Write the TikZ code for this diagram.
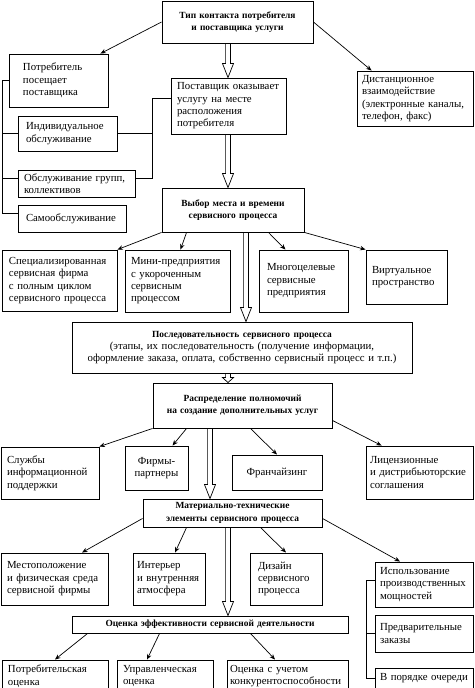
\documentclass[tikz,border=0pt]{standalone}
\usepackage{fontspec}
\setmainfont{Liberation Serif}
\usetikzlibrary{arrows.meta,calc}

\tikzset{
  box/.style={draw, line width=0.9pt, inner xsep=6pt, inner ysep=0pt, align=left,
    font=\fontsize{10.8}{12.4}\selectfont},
  head/.style={box, align=center, font=\fontsize{9.4}{12.3}\selectfont\bfseries},
  arr/.style={line width=0.7pt, -{Stealth[length=5.5pt,width=4.5pt]}},
  link/.style={line width=0.8pt},
  hollow/.style={line width=0.7pt, line join=miter}
}

\newcommand{\bigarrow}[3]{%
  \draw[hollow] let \p1=(#2.south), \p2=(#3.north),
      \n1={min(14,0.55*((\y1)-(\y2)))} in
    (#1pt-2.4pt,\y1) -- (#1pt-2.4pt,\y2+\n1*1pt) -- (#1pt-5.5pt,\y2+\n1*1pt)
    -- (#1pt,\y2) -- (#1pt+5.5pt,\y2+\n1*1pt) -- (#1pt+2.4pt,\y2+\n1*1pt)
    -- (#1pt+2.4pt,\y1);}

\begin{document}
\begin{tikzpicture}[x=1pt,y=-1pt]
\useasboundingbox (0,0) rectangle (474,688);

\node[head, minimum width=151pt, minimum height=42pt, text width=139pt] (tip) at (237.5,22) {Тип контакта потребителя\\и поставщика услуги};
\node[box, inner xsep=14pt, minimum height=53pt, text width=71pt] (potr) at (58.5,80.5) {Потребитель\\посещает\\поставщика};
\node[box, minimum height=56pt, text width=103pt] (post) at (228.5,106) {Поставщик оказывает\\услугу на месте\\расположения\\потребителя};
\node[box, inner xsep=5pt, minimum height=55pt, text width=106pt] (dist) at (415,98.5) {Дистанционное\\взаимодействие\\(электронные каналы,\\телефон, факс)};
\node[box, inner xsep=8pt, minimum height=35pt, text width=83pt] (ind) at (67.5,133.5) {Индивидуальное\\обслуживание};
\node[box, inner xsep=6pt, minimum height=27pt, text width=105pt] (grp) at (76.5,183.5) {Обслуживание групп,\\коллективов};
\node[box, inner xsep=8pt, minimum height=27pt, text width=92pt] (self) at (72,218.5) {Самообслуживание};
\node[head, minimum height=44pt, text width=130pt] (vyb) at (233,210) {Выбор места и времени\\сервисного процесса};

\node[box, inner xsep=7pt, minimum height=61pt, text width=101pt] (spec) at (59.5,280.5) {Специализированная\\сервисная фирма\\с полным циклом\\сервисного процесса};
\node[box, minimum height=62pt, text width=93pt] (mini) at (177.5,281) {Мини-предприятия\\с укороченным\\сервисным\\процессом};
\node[box, inner xsep=8pt, minimum height=62pt, text width=73pt] (mnog) at (303.5,281) {Многоцелевые\\сервисные\\предприятия};
\node[box, minimum height=54pt, text width=69pt] (virt) at (406.5,277) {Виртуальное\\пространство};

\node[box, align=center, minimum height=51pt, text width=328pt] (posl) at (242,347.5) {{\bfseries\fontsize{9.4}{12.3}\selectfont Последовательность сервисного процесса}\\(этапы, их последовательность (получение информации,\\оформление заказа, оплата, собственно сервисный процесс и т.п.)};
\node[head, minimum height=45pt, text width=167pt] (rasp) at (242.5,405.5) {Распределение полномочий\\на создание дополнительных услуг};

\node[box, minimum height=52pt, text width=86pt] (sluzh) at (50,473) {Службы\\информационной\\поддержки};
\node[box, align=center, minimum height=44pt, text width=51pt] (firm) at (156.5,468) {Фирмы-\\партнеры};
\node[box, align=center, minimum height=35pt, text width=78pt] (fran) at (277,472.5) {Франчайзинг};
\node[box, inner xsep=4pt, minimum height=53pt, text width=99pt] (lic) at (419.5,472.5) {Лицензионные\\и дистрибьюторские\\соглашения};

\node[head, minimum height=28pt, text width=167pt] (mat) at (232.5,513) {Материально-технические\\элементы сервисного процесса};

\node[box, minimum height=52pt, text width=95pt] (mest) at (54.5,579) {Местоположение\\и физическая среда\\сервисной фирмы};
\node[box, inner xsep=4pt, minimum height=52pt, text width=64pt] (inter) at (169,579) {Интерьер\\и внутренняя\\атмосфера};
\node[box, inner xsep=8pt, minimum height=52pt, text width=56pt] (diz) at (286,579) {Дизайн\\сервисного\\процесса};
\node[box, inner xsep=5pt, minimum height=45pt, text width=88pt] (isp) at (424,584.5) {Использование\\производственных\\мощностей};
\node[box, inner xsep=5pt, minimum height=37pt, text width=88pt] (pred) at (424,633.5) {Предварительные\\заказы};
\node[box, inner xsep=5pt, minimum height=21pt, text width=88pt] (ochr) at (424,678.5) {В порядке очереди};

\node[head, minimum height=17pt, text width=264pt] (ocen) at (210,624.5) {Оценка эффективности сервисной деятельности};

\node[box, minimum height=32pt, text width=94pt] (potro) at (55,676) {Потребительская\\оценка};
\node[box, minimum height=32pt, text width=84pt] (upr) at (165,676) {Управленческая\\оценка};
\node[box, inner xsep=3pt, minimum height=32pt, text width=115pt] (konk) at (287.5,676) {Оценка с учетом\\конкурентоспособности};

\draw[arr] (tip.west) -- ([xshift=-8pt]potr.north east);
\draw[arr] (tip.east) -- ([xshift=15pt]dist.north west);

\draw[link] (potr.west) -- ++(-6,0) coordinate (lb) |- ([yshift=5pt]self.west);
\draw[link] (ind.west) -- (ind.west -| lb);
\coordinate (g) at ([yshift=5pt]grp.west);
\draw[link] (g) -- (g -| lb);

\draw[link] ([yshift=8pt]post.west) -- ++(-18,0) coordinate (rb) |- ([yshift=5pt]grp.east);
\draw[link] (ind.east) -- (ind.east -| rb);

\draw[arr] (vyb.south west) -- (spec.north east);
\draw[arr] ([xshift=25pt]vyb.south west) -- ([xshift=3pt]mini.north);
\draw[arr] ([xshift=-36pt]vyb.south east) -- ([xshift=-18pt]mnog.north);
\draw[arr] (vyb.south east) -- (virt.north west);

\draw[arr] (rasp.south west) -- (sluzh.north east);
\draw[arr] ([xshift=34pt]rasp.south west) -- ([xshift=16pt]firm.north);
\draw[arr] ([xshift=-82pt]rasp.south east) -- (fran.north);
\draw[arr] ([yshift=8pt]rasp.south east) -- ([xshift=16pt]lic.north west);

\draw[arr] ([yshift=9pt]mat.south west) -- ([xshift=27.5pt]mest.north);
\draw[arr] ([xshift=44pt]mat.south west) -- ([xshift=6pt]inter.north);
\draw[arr] ([xshift=-62pt]mat.south east) -- (diz.north);
\draw[arr] ([yshift=9pt]mat.south east) -- ([xshift=-24pt]isp.north);

\draw[link] ([yshift=4pt]isp.west) -- ++(-8,0) coordinate (qb) |- (ochr.west);
\draw[link] (pred.west) -- (pred.west -| qb);

\draw[arr] ([xshift=16pt]ocen.south west) -- (potro.north);
\draw[arr] ([xshift=88pt]ocen.south west) -- ([xshift=-18pt]upr.north);
\draw[arr] ([xshift=-98pt]ocen.south east) -- ([xshift=-12.5pt]konk.north);

\bigarrow{228}{tip}{post}
\bigarrow{228}{post}{vyb}
\bigarrow{246}{vyb}{posl}
\bigarrow{228}{posl}{rasp}
\bigarrow{210}{rasp}{mat}
\bigarrow{228}{mat}{ocen}

\end{tikzpicture}
\end{document}
